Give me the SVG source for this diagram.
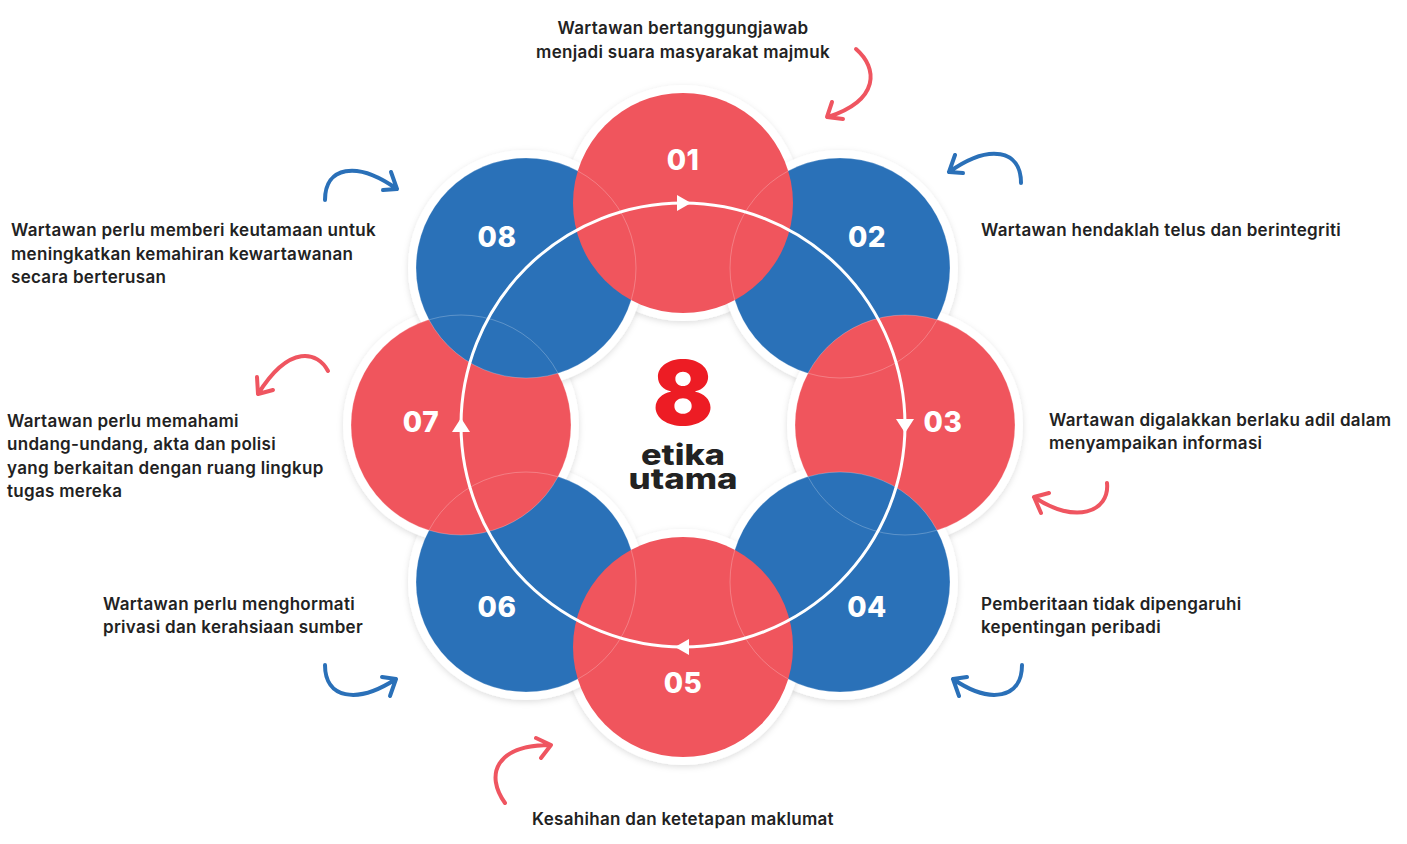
<svg xmlns="http://www.w3.org/2000/svg" width="1407" height="844" viewBox="0 0 1407 844">
<defs>
<filter id="sh" x="-20%" y="-20%" width="140%" height="140%">
<feDropShadow dx="0" dy="2" stdDeviation="3" flood-color="#000" flood-opacity="0.13"/>
</filter>
<style>
.halo{fill:#fff;filter:url(#sh)}
.red{fill:#f0555d}
.blue{fill:#2a71b8}
.edge{fill:none;stroke:#fff;stroke-opacity:0.3;stroke-width:0.8}
.num{font-family:Inter,"Open Sans",sans-serif;font-weight:800;font-size:28px;fill:#fff;text-anchor:middle;letter-spacing:0.5px}
.lbl{font-family:Inter,"Liberation Sans",sans-serif;font-weight:600;font-size:17px;letter-spacing:0.3px;fill:#222}
.mid{text-anchor:middle}
.ca{fill:none;stroke-width:4;stroke-linecap:round;stroke-linejoin:round}
.cr{stroke:#ef5560}
.cb{stroke:#2a70b8}
</style>
</defs>
<rect width="1407" height="844" fill="#fff"/>
<g id="halos">
<circle class="halo" cx="683" cy="203" r="118"/>
<circle class="halo" cx="840" cy="268" r="118"/>
<circle class="halo" cx="905" cy="425" r="118"/>
<circle class="halo" cx="840" cy="582" r="118"/>
<circle class="halo" cx="683" cy="647" r="118"/>
<circle class="halo" cx="526" cy="582" r="118"/>
<circle class="halo" cx="461" cy="425" r="118"/>
<circle class="halo" cx="526" cy="268" r="118"/>
</g>
<g id="n02"><circle class="blue" cx="840" cy="268" r="110"/></g>
<g id="n06"><circle class="blue" cx="526" cy="582" r="110"/></g>
<g id="n03"><circle class="red" cx="905" cy="425" r="110"/></g>
<g id="n04"><circle class="blue" cx="840" cy="582" r="110"/></g>
<g id="n05"><circle class="red" cx="683" cy="647" r="110"/></g>
<g id="n07"><circle class="red" cx="461" cy="425" r="110"/></g>
<g id="n08"><circle class="blue" cx="526" cy="268" r="110"/></g>
<g id="n01"><circle class="red" cx="683" cy="203" r="110"/></g>
<g id="edges">
<circle class="edge" cx="840" cy="268" r="110"/>
<circle class="edge" cx="526" cy="582" r="110"/>
<circle class="edge" cx="905" cy="425" r="110"/>
<circle class="edge" cx="840" cy="582" r="110"/>
<circle class="edge" cx="461" cy="425" r="110"/>
<circle class="edge" cx="526" cy="268" r="110"/>
</g>
<g id="cycle">
<circle cx="683" cy="425" r="222" fill="none" stroke="#fff" stroke-width="3"/>
<polygon fill="#fff" points="677,195 691,203 677,211"/>
<polygon fill="#fff" points="896,419 914,419 905,433"/>
<polygon fill="#fff" points="689,639 675,647 689,655"/>
<polygon fill="#fff" points="452,432 470,432 461,418"/>
</g>
<g id="numbers">
<text class="num" x="683" y="170">01</text>
<text class="num" x="867" y="247">02</text>
<text class="num" x="943" y="432">03</text>
<text class="num" x="867" y="617">04</text>
<text class="num" x="683" y="693">05</text>
<text class="num" x="497" y="617">06</text>
<text class="num" x="421" y="432">07</text>
<text class="num" x="497" y="247">08</text>
</g>
<g id="center">
<text x="683" y="425" font-family="Inter,'Open Sans',sans-serif" font-weight="900" font-size="90" fill="#ed1c24" text-anchor="middle">8</text>
<text x="683" y="465" font-family="Inter,'Open Sans',sans-serif" font-weight="800" font-size="28" fill="#222" text-anchor="middle" textLength="84" lengthAdjust="spacingAndGlyphs">etika</text>
<text x="683" y="489" font-family="Inter,'Open Sans',sans-serif" font-weight="800" font-size="28" fill="#222" text-anchor="middle" textLength="109" lengthAdjust="spacingAndGlyphs">utama</text>
</g>
<g id="labels">
<text class="lbl mid" x="683" y="34">Wartawan bertanggungjawab</text>
<text class="lbl mid" x="683" y="58">menjadi suara masyarakat majmuk</text>
<text class="lbl" x="981" y="236">Wartawan hendaklah telus dan berintegriti</text>
<text class="lbl" x="1049" y="426">Wartawan digalakkan berlaku adil dalam</text>
<text class="lbl" x="1049" y="449">menyampaikan informasi</text>
<text class="lbl" x="981" y="610">Pemberitaan tidak dipengaruhi</text>
<text class="lbl" x="981" y="633">kepentingan peribadi</text>
<text class="lbl mid" x="683" y="825">Kesahihan dan ketetapan maklumat</text>
<text class="lbl" x="103" y="610">Wartawan perlu menghormati</text>
<text class="lbl" x="103" y="633">privasi dan kerahsiaan sumber</text>
<text class="lbl" x="7" y="427">Wartawan perlu memahami</text>
<text class="lbl" x="7" y="450">undang-undang, akta dan polisi</text>
<text class="lbl" x="7" y="474">yang berkaitan dengan ruang lingkup</text>
<text class="lbl" x="7" y="497">tugas mereka</text>
<text class="lbl" x="11" y="236">Wartawan perlu memberi keutamaan untuk</text>
<text class="lbl" x="11" y="260">meningkatkan kemahiran kewartawanan</text>
<text class="lbl" x="11" y="283">secara berterusan</text>
</g>
<g id="connectors">
<path class="ca cr" d="M856,49 C878,68 880,100 828,117 M832,102 L827,117 L843,119"/>
<path class="ca cb" d="M1021,183 C1021,150 990,143 949,172 M955,155 L949,172 L963,173"/>
<path class="ca cr" d="M1107,483 C1110,512 1075,525 1034,497 M1049,493 L1034,497 L1041,513"/>
<path class="ca cb" d="M1022,665 C1022,698 991,705 953,679 M959,696 L953,679 L967,677"/>
<path class="ca cr" d="M505,803 C485,775 495,745 551,745 M536,738 L551,745 L541,758"/>
<path class="ca cb" d="M325,665 C325,698 356,705 396,679 M390,696 L396,679 L382,677"/>
<path class="ca cb" d="M325,200 C325,167 356,160 397,189 M391,172 L397,189 L383,190"/>
<path class="ca cr" d="M328,371 C318,352 290,343 258,394 M257,377 L258,394 L273,390"/>
</g>
</svg>
